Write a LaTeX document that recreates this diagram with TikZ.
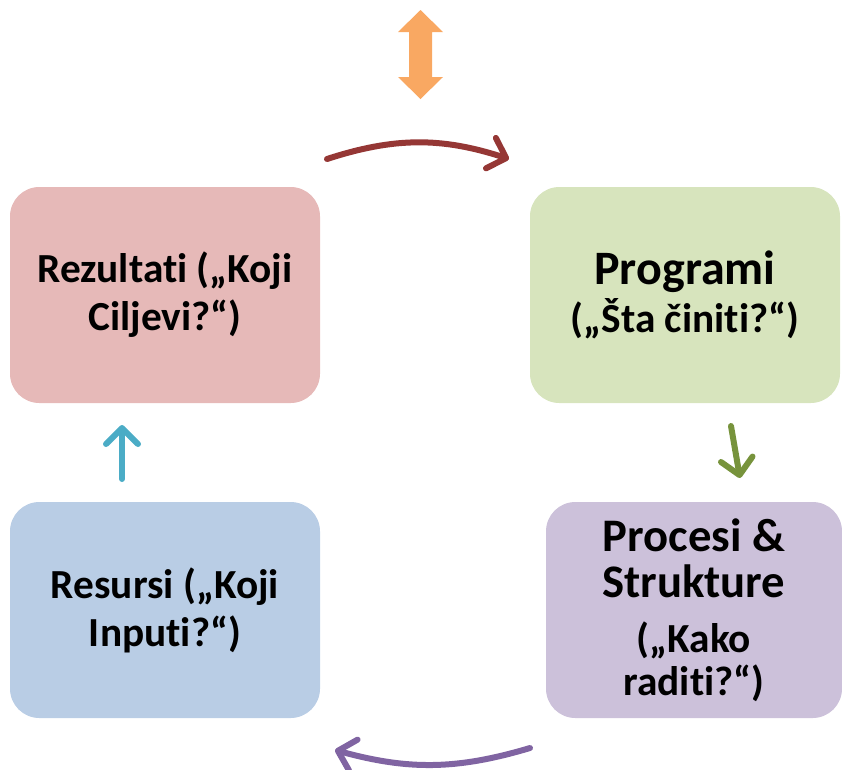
\documentclass[tikz,border=0pt]{standalone}
\usepackage{fontspec}
\setmainfont{Carlito}[RawFeature={-liga;-clig;-calt;-dlig}]
\usetikzlibrary{arrows.meta,positioning}

\definecolor{rezfill}{HTML}{E6B9B8}
\definecolor{progfill}{HTML}{D7E4BD}
\definecolor{resfill}{HTML}{B9CDE5}
\definecolor{procfill}{HTML}{CCC1DA}
\definecolor{orangearr}{HTML}{F9A862}
\definecolor{redarr}{HTML}{953735}
\definecolor{purplearr}{HTML}{8064A2}
\definecolor{bluearr}{HTML}{4BACC6}
\definecolor{greenarr}{HTML}{77933C}

\begin{document}
\begin{tikzpicture}[x=0.75pt,y=-0.75pt,
  box/.style={rounded corners=22pt,minimum width=232.5pt,minimum height=162pt,
    inner sep=0pt,align=center,font=\bfseries\fontsize{31}{36}\selectfont},
  flow/.style={line width=4.5pt,line cap=round,
    -{Straight Barb[length=12pt,width=24pt,round]}}]
\useasboundingbox (0,0) rectangle (842,769);
% the four boxes
\node[box,fill=rezfill] (rez) at (165,295) {Rezultati („Koji\\Ciljevi?“)};
\node[box,fill=progfill] (prog) at (685,295)
  {{\fontsize{36}{36}\selectfont Programi}\\(„Šta činiti?“)};
\node[box,fill=resfill] (res) at (165,610) {Resursi („Koji\\Inputi?“)};
\node[box,fill=procfill,minimum width=222pt,font=\bfseries\fontsize{31}{32}\selectfont]
  (proc) at (694,610)
  {{\fontsize{35}{32}\selectfont Procesi \&}\\[3pt]{\fontsize{35}{32}\selectfont Strukture}\\[9pt]
   („Kako\\raditi?“)};
% double arrow on top
\fill[orangearr] (420.5,10) -- (443,32) -- (432,32) -- (432,77) -- (443,77) -- (420.5,99)
  -- (398,77) -- (409,77) -- (409,32) -- (398,32) -- cycle;
% free ends of the arrows
\coordinate (r0) at (327,159);
\coordinate (r1) at (509,159);
\coordinate (g0) at (731,426);
\coordinate (g1) at (740,478);
\coordinate (p0) at (530,748);
\coordinate (p1) at (335,750);
\coordinate (b0) at (122,479);
\coordinate (b1) at (122,425);
\draw[flow,redarr] (r0) to[bend left=18] (r1);
\draw[flow,greenarr] (g0) -- (g1);
\draw[flow,purplearr] (p0) to[bend left=16] (p1);
\draw[flow,bluearr] (b0) -- (b1);
\end{tikzpicture}
\end{document}
